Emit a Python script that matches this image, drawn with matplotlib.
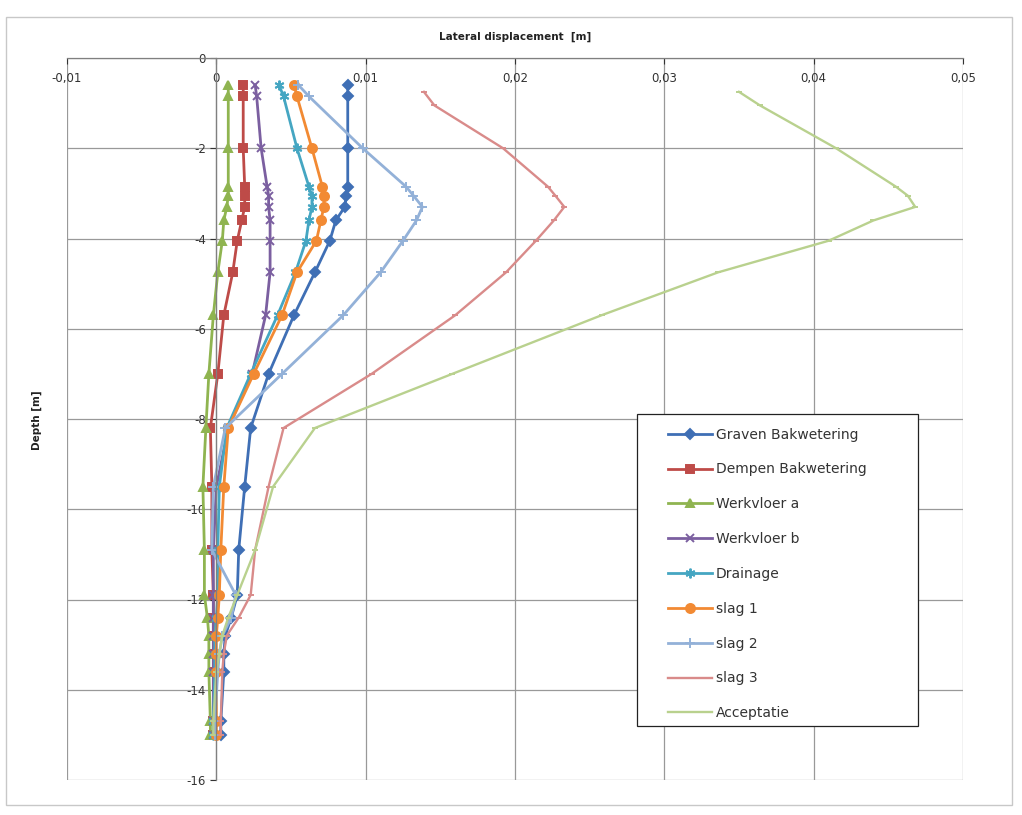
import numpy as np
import matplotlib
matplotlib.use("Agg")
import matplotlib.pyplot as plt
from matplotlib.ticker import FuncFormatter, MultipleLocator
from matplotlib.patches import Rectangle

# depth of the measuring points [m]
depth = [-0.6, -0.85, -2.0, -2.85, -3.05, -3.3, -3.6, -4.05, -4.75, -5.7, -7.0,
         -8.2, -9.5, -10.9, -11.9, -12.4, -12.8, -13.2, -13.6, -14.7, -15.0]
depth_late = [-0.75, -1.05, -2.0, -2.85, -3.05, -3.3, -3.6, -4.05, -4.75, -5.7, -7.0,
              -8.2, -9.5, -10.9, -11.9, -12.4, -12.8, -13.2, -13.6, -14.7, -15.0]

# lateral displacement per phase [m]
graven = [0.0088, 0.0088, 0.0088, 0.0088, 0.0087, 0.0086, 0.0080, 0.0076, 0.0066, 0.0052, 0.0035,
          0.0023, 0.0019, 0.0015, 0.0014, 0.0010, 0.0006, 0.0005, 0.0005, 0.0003, 0.0003]
dempen = [0.0018, 0.0018, 0.0018, 0.0019, 0.0019, 0.0019, 0.0017, 0.0014, 0.0011, 0.0005, 0.0001,
          -0.0004, -0.0003, -0.0003, -0.0002, -0.0002, -0.0002, -0.0002, -0.0002, -0.0002, -0.0002]
werkvloer_a = [0.0008, 0.0008, 0.0008, 0.0008, 0.0008, 0.0007, 0.0005, 0.0004, 0.0001, -0.0002, -0.0005,
               -0.0007, -0.0009, -0.0008, -0.0008, -0.0006, -0.0005, -0.0005, -0.0005, -0.0004, -0.0004]
werkvloer_b = [0.0026, 0.0027, 0.0030, 0.0034, 0.0035, 0.0035, 0.0036, 0.0036, 0.0036, 0.0033, 0.0024,
               0.0008, 0.0000, -0.0002, -0.0002, -0.0002, -0.0002, -0.0002, -0.0002, -0.0002, -0.0002]
drainage = [0.0042, 0.0045, 0.0054, 0.0062, 0.0064, 0.0064, 0.0062, 0.0060, 0.0053, 0.0041, 0.0023,
            0.0007, 0.0002, 0.0001, 0.0001, 0.0000, -0.0001, -0.0001, -0.0001, -0.0002, -0.0002]
slag1 = [0.0052, 0.0054, 0.0064, 0.0071, 0.0072, 0.0072, 0.0070, 0.0067, 0.0054, 0.0044, 0.0025,
         0.0008, 0.0005, 0.0003, 0.0002, 0.0001, 0.0000, 0.0000, 0.0000, 0.0000, 0.0000]
slag2 = [0.0055, 0.0062, 0.0098, 0.0127, 0.0132, 0.0138, 0.0134, 0.0125, 0.0110, 0.0085, 0.0044,
         0.0006, -0.0002, -0.0003, 0.0013, 0.0010, 0.0004, 0.0002, 0.0001, -0.0001, -0.0001]
slag3 = [0.0139, 0.0146, 0.0192, 0.0222, 0.0227, 0.0233, 0.0226, 0.0214, 0.0194, 0.0160, 0.0104,
         0.0045, 0.0035, 0.0026, 0.0023, 0.0015, 0.0007, 0.0005, 0.0004, 0.0003, 0.0003]
acceptatie = [0.0350, 0.0364, 0.0415, 0.0455, 0.0463, 0.0468, 0.0440, 0.0410, 0.0336, 0.0258, 0.0158,
              0.0066, 0.0038, 0.0026, 0.0014, 0.0008, 0.0004, 0.0002, 0.0000, -0.0002, -0.0002]

series = [
    ("Graven Bakwetering", graven, depth, "#3f6fb5", "D", 5),
    ("Dempen Bakwetering", dempen, depth, "#be4b48", "s", 6),
    ("Werkvloer a", werkvloer_a, depth, "#8fb450", "^", 6),
    ("Werkvloer b", werkvloer_b, depth, "#7b5fa0", "x", 6),
    ("Drainage", drainage, depth, "#45a6c2", (6, 2, 0), 7),
    ("slag 1", slag1, depth, "#f28a33", "o", 6.5),
    ("slag 2", slag2, depth, "#93b1d8", "+", 7),
    ("slag 3", slag3, depth_late, "#d98b8a", "_", 4),
    ("Acceptatie", acceptatie, depth_late, "#b9d18e", "_", 4),
]

fig = plt.figure(figsize=(10.22, 8.15), dpi=100)
fig.patches.append(Rectangle((6 / 1022, 10 / 815), 1006 / 1022, 788 / 815,
                             transform=fig.transFigure, fill=False,
                             edgecolor="#c8c8c8", linewidth=1.0))
ax = fig.add_axes([67 / 1022, 1 - 780 / 815, 896 / 1022, 722 / 815])

for name, xs, ys, col, mk, ms in series:
    lw = 1.7 if mk == "_" else 2.0
    ax.plot(xs, ys, color=col, linewidth=lw, marker=mk, markersize=ms,
            markeredgecolor=col, markerfacecolor=col, markeredgewidth=1.4, label=name)

ax.set_xlim(-0.01, 0.05)
ax.set_ylim(-16, 0)
ax.xaxis.set_major_locator(MultipleLocator(0.01))
ax.yaxis.set_major_locator(MultipleLocator(2))
ax.grid(True, color="#999999", linewidth=0.9)
ax.set_axisbelow(True)

# axes cross at the origin, like the spreadsheet version
ax.spines["left"].set_position(("data", 0))
ax.spines["bottom"].set_position(("data", 0))
ax.spines["right"].set_visible(False)
ax.spines["top"].set_visible(False)
for s in ("left", "bottom"):
    ax.spines[s].set_color("#808080")
    ax.spines[s].set_linewidth(0.9)

ax.xaxis.set_major_formatter(FuncFormatter(lambda v, p: f"{v:g}".replace(".", ",") if abs(v) > 1e-12 else "0"))
ax.yaxis.set_major_formatter(FuncFormatter(lambda v, p: f"{v:g}" if abs(v) > 1e-12 else "0"))
ax.tick_params(axis="both", labelsize=8.5, colors="#333333", length=4, width=0.8, direction="out")
ax.tick_params(axis="x", pad=6)

fig.text(515 / 1022, 1 - 37 / 815, "Lateral displacement  [m]", ha="center", va="center",
         fontsize=7.5, fontweight="bold", color="#222222")
fig.text(37 / 1022, 1 - 420 / 815, "Depth [m]", ha="center", va="center", rotation=90,
         fontsize=7.5, fontweight="bold", color="#222222")

# legend box drawn separately so the entries can sit indented inside it
ax.add_patch(Rectangle((0.636, 0.0748), 0.314, 0.432, transform=ax.transAxes,
                       facecolor="white", edgecolor="#222222", linewidth=0.9, zorder=4))
leg = ax.legend(loc="upper left", bbox_to_anchor=(0.6705, 0.488), frameon=False,
                fontsize=10, labelspacing=1.5, handlelength=3.15, handletextpad=0.3,
                borderpad=0, borderaxespad=0, labelcolor="#333333")
leg.set_zorder(5)

fig.savefig("out.png", dpi=100)
